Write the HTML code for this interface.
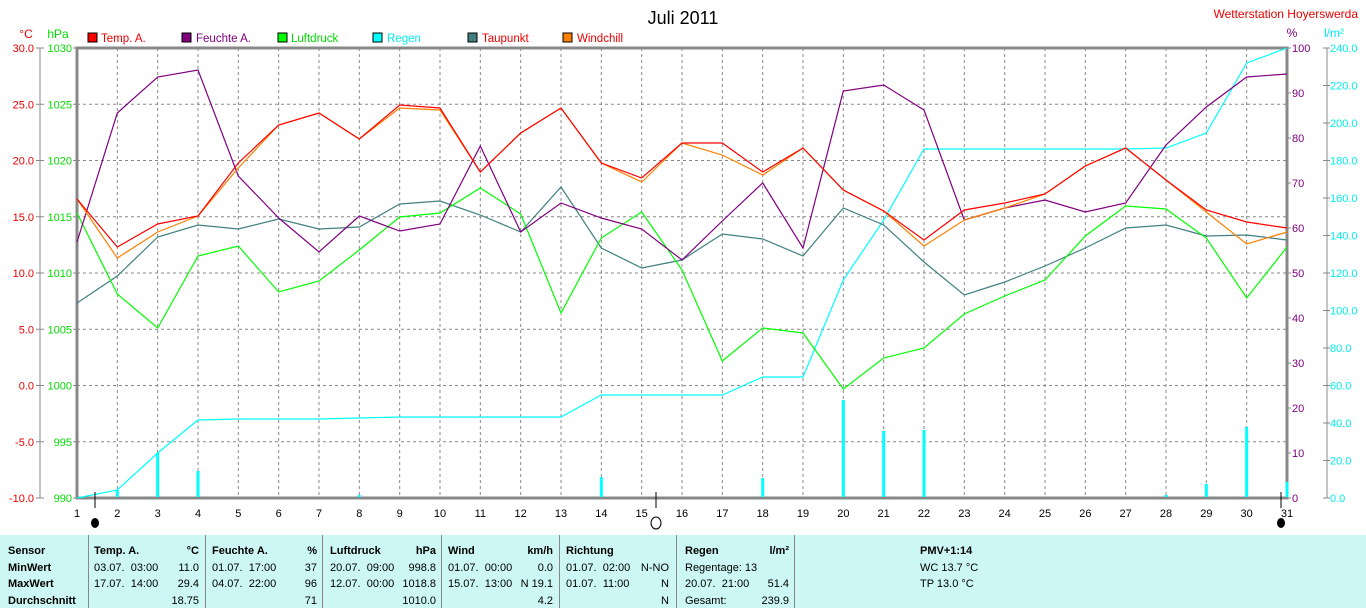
<!DOCTYPE html>
<html><head><meta charset="utf-8"><style>
body{margin:0;background:#fff;width:1366px;height:608px;overflow:hidden;font-family:"Liberation Sans",sans-serif}
svg{position:absolute;left:0;top:0}
.tb{position:absolute;left:0;top:535px;width:1366px;height:73px;background:#ccf7f4;font-size:11px;color:#000}
.c{position:absolute;top:0;height:73px;border-right:1px solid #888}
.r{position:absolute;white-space:nowrap}
</style></head><body>
<svg width="1366" height="535" font-family="Liberation Sans, sans-serif">
<text x="683" y="24" font-size="18" text-anchor="middle">Juli 2011</text>
<text x="1358" y="18" font-size="12" fill="#e00" text-anchor="end">Wetterstation Hoyerswerda</text>
<text x="26" y="38" font-size="12" fill="#e00" text-anchor="middle">°C</text>
<text x="58" y="38" font-size="12" fill="#0d0" text-anchor="middle">hPa</text>
<text x="1292" y="37" font-size="12" fill="#800080" text-anchor="middle">%</text>
<text x="1334" y="37" font-size="12" fill="#0ee" text-anchor="middle">l/m²</text>
<g font-size="11.5">
<rect x="88" y="33" width="9" height="9" fill="#f00" stroke="#000"/><text x="101" y="42" fill="#e00">Temp. A.</text>
<rect x="182" y="33" width="9" height="9" fill="#800080" stroke="#000"/><text x="196" y="42" fill="#800080">Feuchte A.</text>
<rect x="278" y="33" width="9" height="9" fill="#0f0" stroke="#000"/><text x="291" y="42" fill="#0d0">Luftdruck</text>
<rect x="373" y="33" width="9" height="9" fill="#0ff" stroke="#000"/><text x="387" y="42" fill="#0ee">Regen</text>
<rect x="468" y="33" width="9" height="9" fill="#408080" stroke="#000"/><text x="482" y="42" fill="#e00">Taupunkt</text>
<rect x="563" y="33" width="9" height="9" fill="#ff8000" stroke="#000"/><text x="577" y="42" fill="#e00">Windchill</text>
</g>
<g id="grid" stroke="#888" stroke-dasharray="3,3" stroke-width="1"></g>
<line x1="40" y1="48" x2="40" y2="498" stroke="#888"/>
<line x1="1327" y1="48" x2="1327" y2="498" stroke="#888"/>
<rect x="77" y="48" width="1210" height="450" fill="none" stroke="#888" stroke-width="3"/>
<g id="ax" font-size="11"></g>
<g id="bars" stroke="#0ff" stroke-width="3"></g>
<g fill="none" stroke-width="1.2">
<polyline id="rain" stroke="#0ff"/>
<polyline id="dew" stroke="#408080"/>
<polyline id="pres" stroke="#0f0"/>
<polyline id="hum" stroke="#800080"/>
<polyline id="wc" stroke="#ff8000"/>
<polyline id="temp" stroke="#f00"/>
</g>
<g stroke="#000"><line x1="95" y1="492" x2="95" y2="508"/><line x1="656" y1="492" x2="656" y2="508"/><line x1="1281" y1="492" x2="1281" y2="508"/></g>
<ellipse cx="95" cy="523" rx="4" ry="5" fill="#000"/>
<ellipse cx="656" cy="523" rx="5" ry="6" fill="none" stroke="#000"/>
<ellipse cx="1281" cy="523" rx="4" ry="5" fill="#000"/>
</svg>
<div class="tb">
<div class="c" style="left:0;width:88px"></div><div class="c" style="left:88px;width:117px"></div><div class="c" style="left:205px;width:117px"></div><div class="c" style="left:322px;width:119px"></div><div class="c" style="left:441px;width:118px"></div><div class="c" style="left:559px;width:117px"></div><div class="c" style="left:676px;width:118px"></div>
<div class="r" style="left:8px;top:8px;font-weight:bold;line-height:16.5px">Sensor<br>MinWert<br>MaxWert<br>Durchschnitt</div>
<div class="r" style="left:94px;top:8px;line-height:16.5px"><b>Temp. A.</b><br>03.07.&nbsp; 03:00<br>17.07.&nbsp; 14:00</div>
<div class="r" style="left:150px;width:49px;text-align:right;top:8px;line-height:16.5px"><b>°C</b><br>11.0<br>29.4<br>18.75</div>
<div class="r" style="left:212px;top:8px;line-height:16.5px"><b>Feuchte A.</b><br>01.07.&nbsp; 17:00<br>04.07.&nbsp; 22:00</div>
<div class="r" style="left:270px;width:47px;text-align:right;top:8px;line-height:16.5px"><b>%</b><br>37<br>96<br>71</div>
<div class="r" style="left:330px;top:8px;line-height:16.5px"><b>Luftdruck</b><br>20.07.&nbsp; 09:00<br>12.07.&nbsp; 00:00</div>
<div class="r" style="left:385px;width:51px;text-align:right;top:8px;line-height:16.5px"><b>hPa</b><br>998.8<br>1018.8<br>1010.0</div>
<div class="r" style="left:448px;top:8px;line-height:16.5px"><b>Wind</b><br>01.07.&nbsp; 00:00<br>15.07.&nbsp; 13:00</div>
<div class="r" style="left:500px;width:53px;text-align:right;top:8px;line-height:16.5px"><b>km/h</b><br>0.0<br>N 19.1<br>4.2</div>
<div class="r" style="left:566px;top:8px;line-height:16.5px"><b>Richtung</b><br>01.07.&nbsp; 02:00<br>01.07.&nbsp; 11:00</div>
<div class="r" style="left:620px;width:49px;text-align:right;top:8px;line-height:16.5px">&nbsp;<br>N-NO<br>N<br>N</div>
<div class="r" style="left:685px;top:8px;line-height:16.5px"><b>Regen</b><br>Regentage: 13<br>20.07.&nbsp; 21:00<br>Gesamt:</div>
<div class="r" style="left:740px;width:49px;text-align:right;top:8px;line-height:16.5px"><b>l/m²</b><br>&nbsp;<br>51.4<br>239.9</div>
<div class="r" style="left:920px;top:8px;line-height:16.5px"><b>PMV+1:14</b><br>WC 13.7 °C<br>TP 13.0 °C</div>
</div>
<script>
const X=d=>77+(1287-77)/30*(d-1);
const S={temp:[199,247,224,216,163,125,113,139,105,108,172,133,108,163,178,143,143,172,148,190,211,240,210,203,194,166,148,180,210,222,228],
wc:[199,258,232,216,168,125,113,139,108,110,172,133,108,163,182,143,155,175,148,190,211,246,220,208,194,166,148,180,212,244,232],
hum:[242,113,77,70,176,218,252,216,231,224,146,232,203,218,229,260,221,183,248,91,85,110,220,208,200,212,203,145,107,77,74],
pres:[213,294,328,256,246,292,281,250,217,213,188,214,313,238,212,270,361,328,333,389,358,348,314,296,280,236,206,209,238,298,247],
dew:[303,276,237,225,229,219,229,227,204,201,215,232,187,248,268,260,234,239,256,208,225,262,295,282,266,248,228,225,236,235,240],
rain:[498,490,453,420,419,419,419,418,417,417,417,417,417,395,395,395,395,377,377,280,220,149,149,149,149,149,149,148,133,63,48]};
for(const k in S)document.getElementById(k).setAttribute('points',S[k].map((y,i)=>X(i+1).toFixed(1)+','+y).join(' '));
const ns='http://www.w3.org/2000/svg';
function el(p,t,a,txt){const e=document.createElementNS(ns,t);for(const k in a)e.setAttribute(k,a[k]);if(txt!==undefined)e.textContent=txt;document.getElementById(p).appendChild(e);}
for(let d=2;d<=30;d++)el('grid','line',{x1:X(d),y1:48,x2:X(d),y2:498});
for(let i=1;i<8;i++){const y=48+i*56.25;el('grid','line',{x1:77,y1:y,x2:1287,y2:y});}
for(let i=0;i<=8;i++){const y=48+i*56.25;
el('ax','text',{x:34,y:y+4,fill:'#e00','text-anchor':'end'},(30-5*i).toFixed(1));
el('ax','text',{x:72,y:y+4,fill:'#0d0','text-anchor':'end'},1030-5*i);
el('ax','line',{x1:36,y1:y,x2:44,y2:y,stroke:'#888'});el('ax','line',{x1:73,y1:y,x2:77,y2:y,stroke:'#888'});}
for(let i=0;i<=10;i++){const y=48+i*45;el('ax','text',{x:1292,y:y+4,fill:'#800080'},100-10*i);el('ax','line',{x1:1287,y1:y,x2:1291,y2:y,stroke:'#888'});}
for(let i=0;i<=12;i++){const y=48+i*37.5;el('ax','text',{x:1330,y:y+4,fill:'#0ee'},(240-20*i).toFixed(1));el('ax','line',{x1:1323,y1:y,x2:1330,y2:y,stroke:'#888'});}
for(let d=1;d<=31;d++)el('ax','text',{x:X(d),y:517,'text-anchor':'middle'},d);
[[2,490],[3,453],[4,471],[8,495],[14,477],[18,478],[20,400],[21,431],[22,430],[28,495],[29,484],[30,427],[31,482]].forEach(([d,y])=>el('bars','line',{x1:X(d),y1:y,x2:X(d),y2:497}));
</script>
</body></html>
